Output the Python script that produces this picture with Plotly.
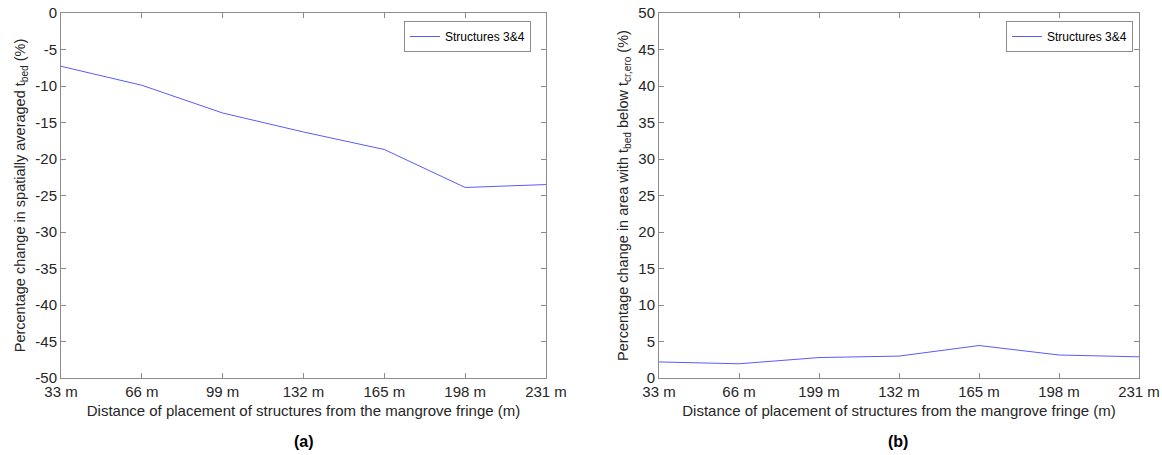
import plotly.graph_objects as go

positions = [33, 66, 99, 132, 165, 198, 231]
labels_a = ["33 m", "66 m", "99 m", "132 m", "165 m", "198 m", "231 m"]
labels_b = ["33 m", "66 m", "199 m", "132 m", "165 m", "198 m", "231 m"]
yticks_a = [0, -5, -10, -15, -20, -25, -30, -35, -40, -45, -50]
ylabels_a = ["0", "-5", "-10", "-15", "-20", "-25", "-30", "-35", "-40", "-45", "-50"]
yticks_b = [0, 5, 10, 15, 20, 25, 30, 35, 40, 45, 50]
ylabels_b = ["0", "5", "10", "15", "20", "25", "30", "35", "40", "45", "50"]
change_bed = [-7.3, -9.9, -13.7, -16.3, -18.7, -23.9, -23.5]
change_area = [2.2, 1.95, 2.8, 3.0, 4.45, 3.15, 2.9]
series_name = "Structures 3&4"

W, H = 1162, 455
xa = [61 / W, 546 / W]
xb = [659 / W, 1139 / W]
yd = [1 - 378 / H, 1 - 13 / H]

line_col = "#5a5aff"
axis_col = "#8c8c8c"
text_col = "#262626"
font_family = "Liberation Sans, Arial, sans-serif"

fig = go.Figure()
fig.add_trace(go.Scatter(x=positions, y=change_bed, mode="lines", name=series_name, showlegend=True,
                         line=dict(color=line_col, width=1), xaxis="x", yaxis="y", legend="legend"))
fig.add_trace(go.Scatter(x=positions, y=change_area, mode="lines", name=series_name, showlegend=True,
                         line=dict(color=line_col, width=1), xaxis="x2", yaxis="y2", legend="legend2"))

common_ax = dict(showgrid=False, zeroline=False, showline=True, linecolor=axis_col, linewidth=1,
                 mirror="ticks", ticks="inside", ticklen=5, tickcolor=axis_col, automargin=False,
                 tickfont=dict(size=15, color=text_col, family=font_family))
xtitle = "Distance of placement of structures from the mangrove fringe (m)"

fig.update_layout(
    width=W, height=H, margin=dict(l=0, r=0, t=0, b=0),
    paper_bgcolor="white", plot_bgcolor="white", showlegend=True,
    font=dict(family=font_family, color=text_col),
    xaxis=dict(domain=xa, anchor="y", range=[33, 231], tickvals=positions, ticktext=labels_a,
               title=dict(text=xtitle, font=dict(size=15), standoff=6), **common_ax),
    yaxis=dict(domain=yd, anchor="x", range=[-50, 0], tickvals=yticks_a, ticktext=ylabels_a,
               title=dict(text="Percentage change in spatially averaged t<sub>bed</sub> (%)",
                          font=dict(size=14.5), standoff=6), **common_ax),
    xaxis2=dict(domain=xb, anchor="y2", range=[33, 231], tickvals=positions, ticktext=labels_b,
                title=dict(text=xtitle, font=dict(size=15), standoff=6), **common_ax),
    yaxis2=dict(domain=yd, anchor="x2", range=[0, 50], tickvals=yticks_b, ticktext=ylabels_b,
                title=dict(text="Percentage change in area with t<sub>bed</sub> below t<sub>cr,ero</sub> (%)",
                           font=dict(size=14.5), standoff=6), **common_ax),
    legend=dict(x=531 / W, y=1 - 21 / H, xanchor="right", yanchor="top", bgcolor="white",
                bordercolor=axis_col, borderwidth=1, font=dict(size=12, color="black"),
                itemwidth=30, tracegroupgap=0, visible=True),
    legend2=dict(x=1133 / W, y=1 - 21 / H, xanchor="right", yanchor="top", bgcolor="white",
                 bordercolor=axis_col, borderwidth=1, font=dict(size=12, color="black"),
                 itemwidth=30, tracegroupgap=0, visible=True),
    annotations=[
        dict(text="<b>(a)</b>", x=304 / W, y=1 - 441 / H, xref="paper", yref="paper",
             xanchor="center", yanchor="middle",
             showarrow=False, font=dict(size=16, color="black")),
        dict(text="<b>(b)</b>", x=898 / W, y=1 - 441 / H, xref="paper", yref="paper",
             xanchor="center", yanchor="middle",
             showarrow=False, font=dict(size=16, color="black")),
    ],
)

fig.write_html("out.html")
